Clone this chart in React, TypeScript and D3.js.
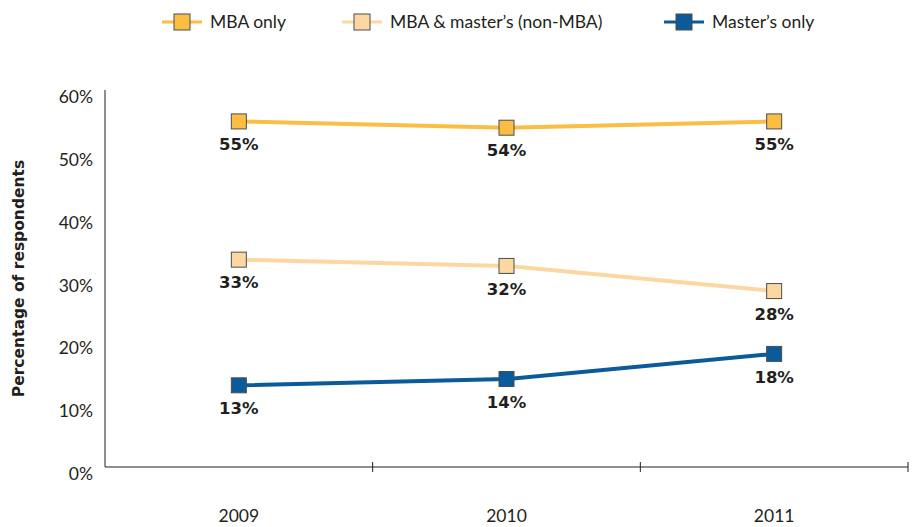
import { useEffect, useRef } from "react";
import * as d3 from "d3";

const YEARS = ["2009", "2010", "2011"];
const SERIES_NAMES = ["MBA only", "MBA & master’s (non-MBA)", "Master’s only"];
const MBA_ONLY = [55, 54, 55];
const MBA_AND_MASTERS = [33, 32, 28];
const MASTERS_ONLY = [13, 14, 18];
const Y_TICKS = [0, 10, 20, 30, 40, 50, 60];

const COLORS = ["#fbbd43", "#fdd7a1", "#0b5b9b"];
const FONT = "Lato, 'DejaVu Sans', sans-serif";
const BOLD_FONT = "'DejaVu Sans', sans-serif";

export default function App() {
  const ref = useRef<SVGSVGElement | null>(null);
  const width = 913;
  const height = 527;
  const m = { top: 90, right: 5, bottom: 60, left: 105 };

  useEffect(() => {
    const svg = d3.select(ref.current);
    svg.selectAll("*").remove();

    const x = d3.scaleBand<string>().domain(YEARS).range([m.left, width - m.right]);
    const y = d3.scaleLinear().domain([0, 60]).range([height - m.bottom, m.top]);
    const g = svg.append("g");

    // y axis
    g.append("line")
      .attr("x1", m.left).attr("x2", m.left)
      .attr("y1", y(60)).attr("y2", y(0))
      .attr("stroke", "#231f20").attr("stroke-width", 1);
    g.selectAll(".ytick")
      .data(Y_TICKS)
      .join("text")
      .attr("x", m.left - 12)
      .attr("y", (d) => y(d) + 7)
      .attr("dy", "0.35em")
      .attr("text-anchor", "end")
      .attr("font-family", FONT)
      .attr("font-size", 17.5)
      .attr("fill", "#231f20")
      .text((d) => `${d}%`);

    // x axis
    g.append("line")
      .attr("x1", m.left).attr("x2", width - m.right)
      .attr("y1", y(0)).attr("y2", y(0))
      .attr("stroke", "#231f20").attr("stroke-width", 1);
    const bounds = YEARS.slice(1).map((d) => x(d)!).concat([x(YEARS[YEARS.length - 1])! + x.bandwidth()]);
    g.selectAll(".xtick")
      .data(bounds)
      .join("line")
      .attr("x1", (d) => d).attr("x2", (d) => d)
      .attr("y1", y(0) - 5).attr("y2", y(0) + 5)
      .attr("stroke", "#231f20");
    g.selectAll(".xlabel")
      .data(YEARS)
      .join("text")
      .attr("x", (d) => x(d)! + x.bandwidth() / 2)
      .attr("y", 516)
      .attr("dy", "0.35em")
      .attr("text-anchor", "middle")
      .attr("font-family", FONT)
      .attr("font-size", 17.5)
      .attr("fill", "#231f20")
      .text((d) => d);

    // axis title
    g.append("text")
      .attr("transform", `translate(24,${(y(0) + y(60)) / 2}) rotate(-90)`)
      .attr("text-anchor", "middle")
      .attr("font-family", BOLD_FONT)
      .attr("font-weight", 700)
      .attr("font-size", 15.5)
      .attr("fill", "#231f20")
      .text("Percentage of respondents");

    const all = [MBA_ONLY, MBA_AND_MASTERS, MASTERS_ONLY];
    const line = d3
      .line<number>()
      .x((_, i) => x(YEARS[i])! + x.bandwidth() / 2)
      .y((d) => y(d));
    const sq = 15;

    all.forEach((vals, si) => {
      g.append("path")
        .attr("d", line(vals)!)
        .attr("fill", "none")
        .attr("stroke", COLORS[si])
        .attr("stroke-width", 4);
      g.selectAll(`.pt${si}`)
        .data(vals)
        .join("rect")
        .attr("x", (_, i) => x(YEARS[i])! + x.bandwidth() / 2 - sq / 2)
        .attr("y", (d) => y(d) - sq / 2)
        .attr("width", sq)
        .attr("height", sq)
        .attr("fill", COLORS[si])
        .attr("stroke", "#4d4d4f")
        .attr("stroke-width", 1);
      g.selectAll(`.lb${si}`)
        .data(vals)
        .join("text")
        .attr("x", (_, i) => x(YEARS[i])! + x.bandwidth() / 2)
        .attr("y", (d) => y(d) + 23)
        .attr("dy", "0.35em")
        .attr("text-anchor", "middle")
        .attr("font-family", BOLD_FONT)
        .attr("font-weight", 700)
        .attr("font-size", 16.5)
        .attr("fill", "#231f20")
        .text((d) => `${d}%`);
    });

    // legend
    const legX = [182, 362, 684];
    SERIES_NAMES.forEach((name, i) => {
      const lg = g.append("g").attr("transform", `translate(${legX[i]},22)`);
      lg.append("line").attr("x1", -20).attr("x2", 20).attr("stroke", COLORS[i]).attr("stroke-width", 3);
      lg.append("rect")
        .attr("x", -8).attr("y", -8).attr("width", 16).attr("height", 16)
        .attr("fill", COLORS[i]).attr("stroke", "#4d4d4f");
      lg.append("text")
        .attr("x", 28)
        .attr("dy", "0.35em")
        .attr("font-family", FONT)
        .attr("font-size", 17.5)
        .attr("fill", "#231f20")
        .text(name);
    });
  }, []);

  return (
    <div style={{ position: "absolute", left: 0, top: 0 }}>
      <svg ref={ref} width={width} height={height} style={{ display: "block", background: "#fff" }} />
    </div>
  );
}
